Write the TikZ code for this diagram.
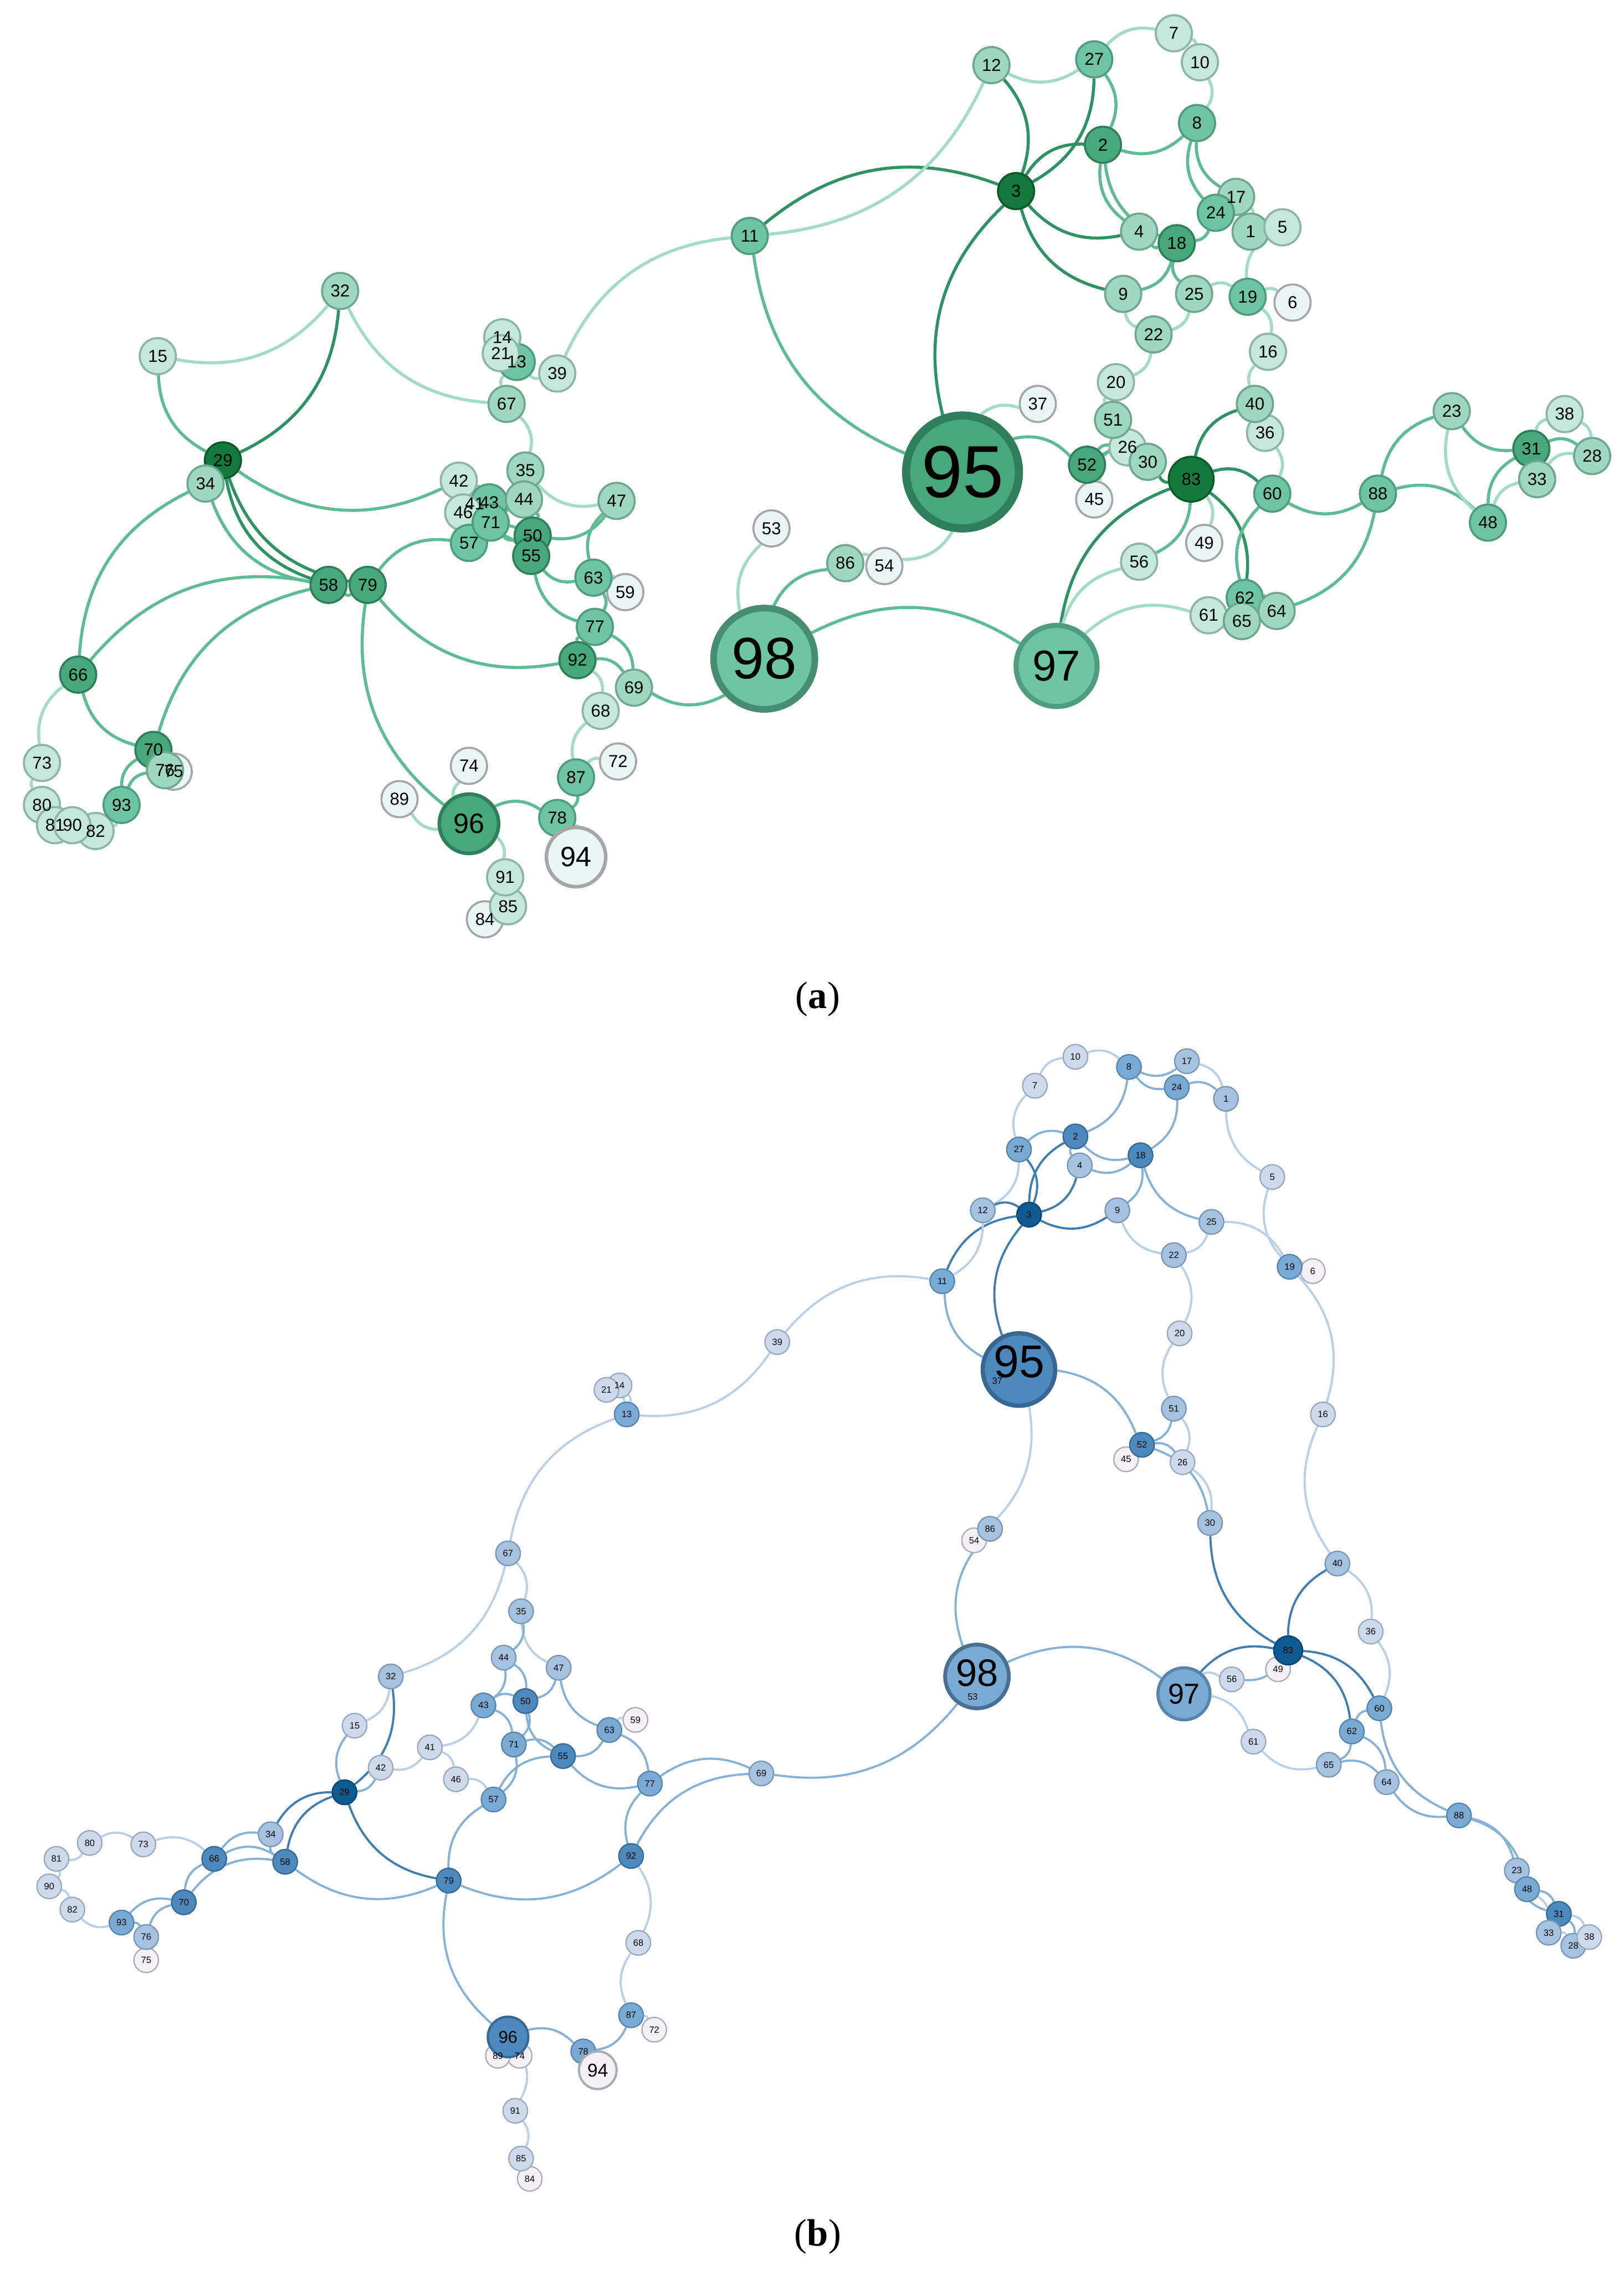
\documentclass[tikz,border=0pt]{standalone}
\usepackage{fontspec}
\setmainfont{Liberation Serif}
\newfontfamily\labelfont{Liberation Sans}
\pgfdeclarelayer{links}
\pgfdeclarelayer{labels}
\pgfsetlayers{links,main,labels}
% green shades, panel (a)
\definecolor{GfillA}{HTML}{EAF6F6}\definecolor{GdrawA}{HTML}{A6A6A6}
\definecolor{GfillB}{HTML}{C4E8DC}\definecolor{GdrawB}{HTML}{8DB5A7}
\definecolor{GfillC}{HTML}{9ED8C3}\definecolor{GdrawC}{HTML}{6EA792}
\definecolor{GfillD}{HTML}{6EC5A5}\definecolor{GdrawD}{HTML}{4F9D80}
\definecolor{GfillE}{HTML}{47A87C}\definecolor{GdrawE}{HTML}{2F7F5A}
\definecolor{GfillF}{HTML}{137A3C}\definecolor{GdrawF}{HTML}{0C5A2B}
\definecolor{Gedgel}{HTML}{A2DCC5}
\definecolor{Gedgem}{HTML}{5EBC95}
\definecolor{Gedged}{HTML}{2E9363}
% blue shades, panel (b)
\definecolor{BfillA}{HTML}{F3F0F6}\definecolor{BdrawA}{HTML}{ABABB3}
\definecolor{BfillB}{HTML}{CCDAEB}\definecolor{BdrawB}{HTML}{98A9BE}
\definecolor{BfillC}{HTML}{A5C3E0}\definecolor{BdrawC}{HTML}{7896B6}
\definecolor{BfillD}{HTML}{78AAD4}\definecolor{BdrawD}{HTML}{5684AD}
\definecolor{BfillE}{HTML}{4C89BD}\definecolor{BdrawE}{HTML}{366892}
\definecolor{BfillF}{HTML}{0D5B92}\definecolor{BdrawF}{HTML}{094470}
\definecolor{Bedgel}{HTML}{B9D1E8}
\definecolor{Bedgem}{HTML}{86B2D8}
\definecolor{Bedged}{HTML}{3F7EB3}
% the links, same for both layouts
\def\netlinks{39/11/l, 11/3/d, 12/11/l, 95/11/m, 27/12/l, 12/3/d, 27/3/d, 3/2/d, 27/2/m, 27/7/l, 7/10/l, 10/8/l, 8/2/m, 4/2/m, 18/2/m, 4/3/d, 9/3/d, 95/3/d, 24/8/m, 17/8/m, 24/18/m, 18/4/m, 18/9/m, 25/18/m, 22/9/l, 25/22/l, 25/19/l, 19/6/l, 24/1/m, 17/1/l, 5/1/l, 19/5/l, 19/16/l, 40/16/l, 22/20/l, 51/20/l, 51/52/m, 51/26/l, 52/26/m, 52/30/m, 26/30/l, 52/45/l, 95/37/l, 95/52/m, 95/54/l, 98/86/m, 98/53/l, 86/54/l, 83/30/d, 83/40/d, 40/36/l, 36/60/l, 83/60/d, 83/62/d, 62/60/m, 83/49/l, 83/56/m, 97/83/d, 97/56/l, 97/61/l, 65/61/l, 62/65/m, 62/64/m, 65/64/m, 88/64/m, 88/60/m, 88/23/m, 88/48/m, 48/23/l, 31/23/m, 48/31/m, 48/33/l, 31/28/m, 33/28/l, 31/38/l, 38/28/l, 98/97/m, 98/69/m, 77/69/m, 92/69/m, 92/77/m, 92/68/l, 87/68/l, 87/72/l, 87/78/m, 96/78/m, 96/89/l, 96/74/l, 96/91/l, 91/85/l, 85/84/l, 78/94/l, 96/79/m, 92/79/m, 79/57/m, 79/58/m, 79/29/d, 58/29/d, 58/34/m, 34/29/d, 66/34/m, 66/58/m, 70/58/m, 70/66/m, 73/66/l, 80/73/l, 80/81/l, 81/90/l, 90/82/l, 93/82/l, 93/70/m, 76/70/m, 93/76/m, 76/75/l, 32/15/l, 29/15/m, 32/29/d, 42/29/m, 67/32/l, 67/13/l, 39/13/l, 14/13/l, 21/13/l, 67/35/l, 47/35/l, 35/44/m, 44/43/m, 44/50/m, 43/50/m, 47/50/m, 63/47/m, 43/71/m, 50/71/m, 55/50/m, 71/55/m, 71/57/m, 57/55/m, 63/55/m, 77/55/m, 63/59/l, 63/77/m, 41/42/l, 43/41/l, 41/46/l, 46/57/l}

\begin{document}
\begin{tikzpicture}[x=0.02cm,y=-0.02cm,
 gnode/.style={circle,draw,inner sep=0pt,minimum size=0.5cm,line width=0.8pt},
 gtext/.style={inner sep=0pt,font=\labelfont\fontsize{6.8}{7}\selectfont},
 bnode/.style={circle,draw,inner sep=0pt,minimum size=0.34cm,line width=0.5pt},
 btext/.style={inner sep=0pt,font=\labelfont\fontsize{3.6}{4}\selectfont},
 glink/.style={line width=1.2pt},
 blink/.style={line width=0.85pt},
 caption/.style={font=\fontsize{15}{17}\selectfont}]
\useasboundingbox (0,0) rectangle (1122,1568);

% (a) green layout
\foreach \n/\x/\y/\l in {1/864/160/C, 2/762/100/E, 3/702/132/F, 4/787/160/C, 5/886/157/B, 6/893/209/A, 7/811/23/B, 8/827/85/D, 9/776/203/C, 10/829/43/B, 11/518/163/D, 12/685/45/C, 13/357/250/D, 14/347/233/B, 15/109/246/B, 16/876/243/B, 17/854/136/C, 18/813/168/E, 19/862/205/D, 20/771/264/B, 21/346/244/B, 22/797/231/C, 23/1003/284/C, 24/840/147/D, 25/825/203/C, 26/779/309/B, 27/756/41/D, 28/1100/315/C, 29/154/318/F, 30/793/319/C, 31/1058/310/E, 32/235/201/C, 33/1062/331/C, 34/142/334/C, 35/363/325/C, 36/874/299/B, 37/717/279/A, 38/1081/286/B, 39/385/258/B, 40/867/279/C, 41/328/348/B, 42/317/332/B, 43/338/347/D, 44/362/345/C, 45/756/345/A, 46/320/354/B, 47/426/346/C, 48/1028/361/D, 49/832/375/A, 50/368/370/E, 51/769/290/C, 52/751/321/E, 53/533/365/A, 54/611/391/A, 55/367/384/E, 56/787/388/B, 57/324/375/D, 58/227/404/E, 59/432/409/A, 60/879/341/D, 61/835/425/B, 62/860/413/D, 63/410/399/D, 64/882/422/C, 65/858/429/C, 66/54/466/E, 67/350/279/C, 68/415/491/B, 69/438/475/C, 70/106/518/E, 71/339/361/D, 72/427/526/A, 73/29/527/B, 74/324/529/A, 75/120/533/A, 76/114/532/C, 77/411/433/D, 78/385/565/D, 79/254/404/E, 80/29/556/B, 81/38/570/B, 82/66/574/B, 84/335/635/A, 85/351/626/B, 86/584/389/C, 87/398/537/D, 88/952/341/D, 89/276/552/A, 90/50/570/B, 91/349/606/B, 92/399/456/E, 93/84/556/D}
{
 \node[gnode,fill=Gfill\l,draw=Gdraw\l] (a\n) at (\x,\y) {};
 \begin{pgfonlayer}{labels}
  \node[gtext] (ta\n) at (a\n) {\n};
 \end{pgfonlayer}
}
\node[gnode,fill=GfillF,draw=GdrawF,minimum size=0.62cm] (a83) at (823,331) {};
\node[gnode,fill=GfillE,draw=GdrawE,minimum size=0.82cm,line width=1.4pt] (a96) at (324,569) {};
\node[gnode,fill=GfillA,draw=GdrawA,minimum size=0.82cm,line width=1.4pt] (a94) at (398,592) {};
\node[gnode,fill=GfillD,draw=GdrawD,minimum size=1.12cm,line width=2pt] (a97) at (730,460) {};
\node[gnode,fill=GfillD,draw=GdrawD!90!black,minimum size=1.4cm,line width=2.6pt] (a98) at (528,455) {};
\node[gnode,fill=GfillE,draw=GdrawE,minimum size=1.56cm,line width=3.2pt] (a95) at (665,326) {};
\begin{pgfonlayer}{labels}
\node[gtext] (ta83) at (a83) {83};
\node[gtext,font=\labelfont\fontsize{11}{12}\selectfont] (ta96) at (a96) {96};
\node[gtext,font=\labelfont\fontsize{11}{12}\selectfont] (ta94) at (a94) {94};
\node[gtext,font=\labelfont\fontsize{17}{18}\selectfont] (ta97) at (a97) {97};
\node[gtext,font=\labelfont\fontsize{23}{24}\selectfont] (ta98) at (a98) {98};
\node[gtext,font=\labelfont\fontsize{29}{30}\selectfont] (ta95) at (a95) {95};
\end{pgfonlayer}
\begin{pgfonlayer}{links}
\foreach \s/\t/\w in \netlinks
 \draw[glink,draw=Gedge\w] (a\s) to[bend left=30] (a\t);
\end{pgfonlayer}
\node[caption] (capA) at (565,690) {(\textbf{a})};

% (b) blue layout
\foreach \n/\x/\y/\l in {1/847/759/C, 2/743/785/E, 3/711/839/F, 4/746/805/C, 5/879/813/B, 6/907/878/A, 7/715/750/B, 8/780/737/D, 9/772/836/C, 10/743/730/B, 11/651/885/D, 12/679/836/C, 13/433/977/D, 14/428/957/B, 15/245/1192/B, 16/914/977/B, 17/820/733/C, 18/788/798/E, 19/891/875/D, 20/815/921/B, 21/419/960/B, 22/811/867/C, 23/1048/1292/C, 24/813/751/D, 25/837/844/C, 26/817/1010/B, 27/704/794/D, 28/1087/1344/C, 29/238/1238/F, 30/836/1052/C, 31/1077/1322/E, 32/270/1158/C, 33/1070/1335/C, 34/187/1267/C, 35/360/1113/C, 36/947/1127/B, 38/1098/1338/B, 39/537/927/B, 40/924/1080/C, 41/297/1207/B, 42/263/1221/B, 43/334/1178/D, 44/348/1145/C, 45/778/1008/A, 46/315/1229/B, 47/386/1152/C, 48/1055/1305/D, 49/883/1153/A, 50/363/1175/E, 51/811/973/C, 52/789/998/E, 54/673/1064/A, 55/389/1213/E, 56/851/1160/B, 57/341/1243/D, 58/197/1286/E, 59/439/1188/A, 60/953/1180/D, 61/866/1203/B, 62/934/1196/D, 63/421/1195/D, 64/958/1231/C, 65/918/1219/C, 66/148/1284/E, 67/351/1073/C, 68/441/1342/B, 69/526/1225/C, 70/127/1314/E, 71/355/1205/D, 72/452/1402/A, 73/99/1274/B, 74/359/1420/A, 75/101/1354/A, 76/101/1338/C, 77/449/1232/D, 78/403/1417/D, 79/310/1299/E, 80/62/1273/B, 81/39/1284/B, 82/50/1319/B, 84/366/1505/A, 85/360/1491/B, 86/684/1056/C, 87/436/1392/D, 88/1008/1254/D, 89/344/1420/A, 90/34/1303/B, 91/356/1458/B, 92/436/1282/E, 93/84/1328/D}
{
 \node[bnode,fill=Bfill\l,draw=Bdraw\l] (b\n) at (\x,\y) {};
 \begin{pgfonlayer}{labels}
  \node[btext] (tb\n) at (b\n) {\n};
 \end{pgfonlayer}
}
\node[bnode,fill=BfillF,draw=BdrawF,minimum size=0.4cm] (b83) at (890,1140) {};
\node[bnode,fill=BfillE,draw=BdrawE,minimum size=0.56cm,line width=0.9pt] (b96) at (351,1407) {};
\node[bnode,fill=BfillA,draw=BdrawA,minimum size=0.52cm,line width=0.9pt] (b94) at (413,1430) {};
\node[bnode,fill=BfillD,draw=BdrawD,minimum size=0.72cm,line width=1.2pt] (b97) at (818,1170) {};
\node[bnode,fill=BfillD,draw=BdrawD!85!black,minimum size=0.88cm,line width=1.5pt] (b98) at (675,1158) {};
\node[bnode,fill=BfillE,draw=BdrawE,minimum size=1cm,line width=1.7pt] (b95) at (704,946) {};
\node[bnode,draw=none,fill=none] (b37) at (689,954) {};
\node[bnode,draw=none,fill=none] (b53) at (672,1172) {};
\begin{pgfonlayer}{labels}
\node[btext] (tb83) at (b83) {83};
\node[btext] (tb37) at (b37) {37};
\node[btext] (tb53) at (b53) {53};
\node[btext,font=\labelfont\fontsize{6.7}{7}\selectfont] (tb96) at (b96) {96};
\node[btext,font=\labelfont\fontsize{7.3}{8}\selectfont] (tb94) at (b94) {94};
\node[btext,font=\labelfont\fontsize{11.3}{12}\selectfont] (tb97) at (b97) {97};
\node[btext,font=\labelfont\fontsize{15}{16}\selectfont] (tb98) at ([yshift=0.05cm]b98.center) {98};
\node[btext,font=\labelfont\fontsize{18}{19}\selectfont] (tb95) at ([yshift=0.11cm]b95.center) {95};
\end{pgfonlayer}
\begin{pgfonlayer}{links}
\foreach \s/\t/\w in \netlinks
 \draw[blink,draw=Bedge\w] (b\s) to[bend left=30] (b\t);
\end{pgfonlayer}
\node[caption] (capB) at (565,1545) {(\textbf{b})};
\end{tikzpicture}
\end{document}
